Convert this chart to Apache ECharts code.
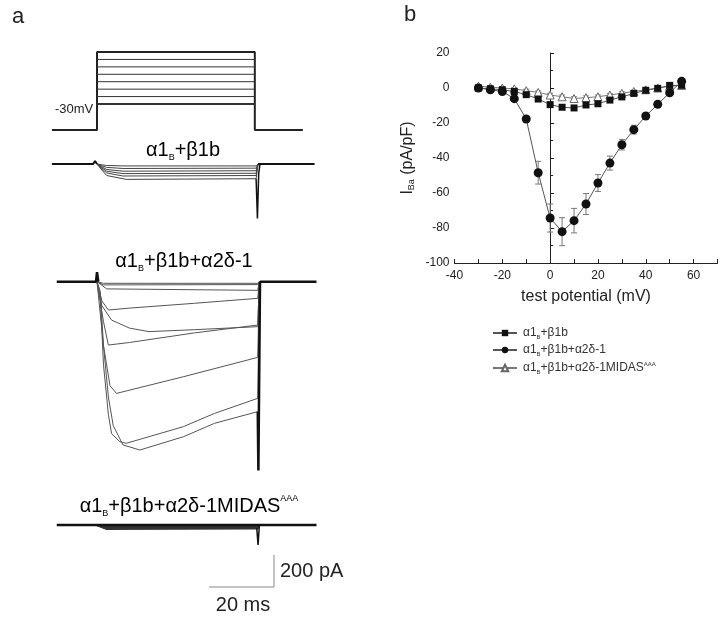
<!DOCTYPE html>
<html>
<head>
<meta charset="utf-8">
<script src="https://cdn.jsdelivr.net/npm/echarts@6/dist/echarts.min.js"></script>
<style>
html,body{margin:0;padding:0;background:#fff;}
#main{width:721px;height:617px;}
</style>
</head>
<body>
<div id="main"></div>
<script>
// ---- panel b : I-V data ----
var ivX = [-30, -25, -20, -15, -10, -5, 0, 5, 10, 15, 20, 25, 30, 35, 40, 45, 50, 55];
var sqI = [0, -0.5, -1, -2, -3.8, -6.3, -9.5, -11, -11.4, -9.7, -9, -6.9, -5.1, -3.1, -1.3, -0.2, 1.5, 1.5];
var sqErr = [0.5, 0.5, 0.5, 0.6, 0.8, 1, 1.2, 1.3, 1.3, 1.2, 1.1, 1, 0.8, 0.7, 0.6, 0.5, 0.5, 0.5];
var cirI = [0, -1, -2, -6.1, -17.7, -48.4, -74.3, -82.1, -75.8, -66.3, -54.3, -42.9, -32.4, -23.8, -16, -9.3, -2.7, 3.8];
var cirErr = [0.5, 0.8, 1, 1.2, 1.5, 6.5, 8, 8, 7, 6, 4.8, 4, 3, 2.5, 1.5, 1, 1, 1];
var triI = [1, 0.5, 0, -0.5, -1.5, -2.5, -4, -5, -6, -5.5, -5, -4, -3, -2, -1, 0, 1, 1.5];
var triErr = [1, 0.8, 0.8, 0.8, 0.8, 0.8, 1, 1, 1, 1, 1, 0.8, 0.8, 0.8, 0.8, 0.8, 0.8, 0.8];
var ivNames = ['α1B+β1b', 'α1B+β1b+α2δ-1', 'α1B+β1b+α2δ-1MIDASAAA'];

// ---- panel a : voltage protocol (ms, mV) ----
var protoOuter = [[-13.9, -65], [0, -65], [0, 40], [48.6, 40], [48.6, -65], [63.4, -65]];
var protoSteps = [-30, -20, -10, 0, 10, 20, 30];

// ---- panel a : current traces (ms, pA) ----
var g1Base = [[-13.9, 0], [-1.2, 0], [-0.6, 18], [0, 0]];
var g1Tail = [[49.6, 0], [67, 0]];
var g1Spike = [[49, -92], [49.4, -340], [49.8, -60], [50.2, 0]];
var g1Traces = [
  [[0, 0], [1.5, -5], [3, -9], [8, -12], [49, -12], [49.6, 0]],
  [[0, 0], [1.5, -11], [3, -21], [8, -28], [49, -26], [49.6, 0]],
  [[0, 0], [1.5, -18], [3, -34], [8, -45], [49, -42], [49.6, 0]],
  [[0, 0], [1.5, -24], [3, -45], [8, -60], [49, -58], [49.6, 0]],
  [[0, 0], [1.5, -30], [3, -56], [8, -75], [49, -72], [49.6, 0]],
  [[0, 0], [1.5, -38], [3, -72], [9, -96], [49, -92], [49.6, 0]]
];

var g2Base = [[-12.4, 0], [-0.3, 0], [0, 60], [0.4, 0]];
var g2Tail = [[50.2, 0], [67.6, 0]];
var g2Spike = [[49.5, -812], [49.7, -1180], [50.2, 0]];
var g2Traces = [
  [[0, 0], [2, -10], [49.5, -10], [50, 0]],
  [[0, 0], [2, -20], [49.5, -18], [50, 0]],
  [[0, 0], [3, -45], [49.5, -54], [50, 0]],
  [[0, 0], [1.5, -120], [3.5, -177], [10, -165], [30, -135], [49.5, -104], [50, 0]],
  [[0, 0], [1.5, -150], [4.5, -240], [10, -290], [16, -312], [30, -300], [49.5, -281], [50, 0]],
  [[0, 0], [2, -250], [3.5, -396], [10, -380], [30, -320], [49.5, -271], [50, 0]],
  [[0, 0], [2, -400], [4, -650], [6, -698], [26.6, -594], [49.5, -473], [50, 0]],
  [[0, 0], [1, -100], [2, -520], [3.5, -830], [4.5, -950], [7, -1000], [9, -1010], [26.6, -906], [36.2, -823], [49.5, -729], [50, 0]],
  [[0, 0], [1, -60], [2, -400], [3.5, -720], [5, -900], [8, -1020], [13.2, -1052], [26.6, -969], [36.2, -885], [49.5, -812]]
];

var g3Base = [[-12.4, 0], [67.6, 0]];
var g3Spike = [[49.2, -20], [49.6, -125], [50, 0]];
var g3Traces = [
  [[0, 0], [2, -8], [49.5, -8], [49.7, 0]],
  [[0, 0], [2, -16], [49.5, -15], [49.7, 0]],
  [[0, 0], [3, -25], [49.5, -22], [49.7, 0]]
];
var scaleBar = [[34.5, -387.5], [54.5, -387.5], [54.5, -187.5]];

var FONT = 'Liberation Sans, Arial, sans-serif';

function line(data, g, w, c) {
  return {
    type: 'line', xAxisIndex: g, yAxisIndex: g, data: data,
    showSymbol: false, symbol: 'none', silent: true, clip: false,
    lineStyle: { width: w, color: c }, z: 2
  };
}

function errData(vals, errs) {
  var out = [];
  for (var i = 0; i < ivX.length; i++) {
    out.push([ivX[i], vals[i] - errs[i], vals[i] + errs[i]]);
  }
  return out;
}

function renderErr(params, api) {
  var x = api.value(0);
  var p1 = api.coord([x, api.value(1)]);
  var p2 = api.coord([x, api.value(2)]);
  var w = 3;
  var st = { stroke: '#777', lineWidth: 1 };
  return {
    type: 'group',
    children: [
      { type: 'line', shape: { x1: p1[0], y1: p1[1], x2: p2[0], y2: p2[1] }, style: st },
      { type: 'line', shape: { x1: p1[0] - w, y1: p1[1], x2: p1[0] + w, y2: p1[1] }, style: st },
      { type: 'line', shape: { x1: p2[0] - w, y1: p2[1], x2: p2[0] + w, y2: p2[1] }, style: st }
    ]
  };
}

function pairs(vals) {
  return ivX.map(function (x, i) { return [x, vals[i]]; });
}

var myChart = echarts.init(document.getElementById('main'));

var hiddenX = function (g, min, max) { return { type: 'value', gridIndex: g, min: min, max: max, show: false }; };
var hiddenY = function (g, min, max) { return { type: 'value', gridIndex: g, min: min, max: max, show: false }; };

var richSmall = {
  n: { fontSize: 12, color: '#333', fontFamily: FONT, lineHeight: 14 },
  s: { fontSize: 6, color: '#333', fontFamily: FONT, lineHeight: 8, verticalAlign: 'bottom' },
  u: { fontSize: 6, color: '#333', fontFamily: FONT, lineHeight: 8, verticalAlign: 'top' }
};
var richBig = {
  n: { fontSize: 20, color: '#222', fontFamily: FONT, lineHeight: 24 },
  s: { fontSize: 9, color: '#222', fontFamily: FONT, lineHeight: 12, verticalAlign: 'bottom' },
  u: { fontSize: 9, color: '#222', fontFamily: FONT, lineHeight: 12, verticalAlign: 'top' }
};
var legendText = {};
legendText[ivNames[0]] = '{n|α1}{s|B}{n|+β1b}';
legendText[ivNames[1]] = '{n|α1}{s|B}{n|+β1b+α2δ-1}';
legendText[ivNames[2]] = '{n|α1}{s|B}{n|+β1b+α2δ-1MIDAS}{u|AAA}';

var series = [];
// I-V error bars
[[cirI, cirErr], [sqI, sqErr], [triI, triErr]].forEach(function (d) {
  series.push({
    type: 'custom', xAxisIndex: 0, yAxisIndex: 0, renderItem: renderErr,
    data: errData(d[0], d[1]), encode: { x: 0, y: [1, 2] }, silent: true, z: 1
  });
});
series.push({
  name: ivNames[0], type: 'line', xAxisIndex: 0, yAxisIndex: 0, data: pairs(sqI),
  symbol: 'rect', symbolSize: 7, lineStyle: { color: '#555', width: 1 },
  itemStyle: { color: '#111' }, z: 4
});
series.push({
  name: ivNames[1], type: 'line', xAxisIndex: 0, yAxisIndex: 0, data: pairs(cirI),
  symbol: 'circle', symbolSize: 9, lineStyle: { color: '#555', width: 1 },
  itemStyle: { color: '#111' }, z: 5
});
series.push({
  name: ivNames[2], type: 'line', xAxisIndex: 0, yAxisIndex: 0, data: pairs(triI),
  symbol: 'triangle', symbolSize: 8, lineStyle: { color: '#777', width: 1 },
  itemStyle: { color: '#fff', borderColor: '#666', borderWidth: 1 }, z: 3
});

// protocol
series.push(line(protoOuter, 1, 2, '#222'));
protoSteps.forEach(function (v) {
  series.push(line([[0, v], [48.6, v]], 1, v === -30 ? 2 : 1, '#333'));
});

// group 1
g1Traces.forEach(function (t) { series.push(line(t, 2, 1, '#444')); });
series.push(line(g1Base, 2, 2, '#111'));
series.push(line(g1Tail, 2, 2, '#111'));
series.push(line(g1Spike, 2, 1.5, '#111'));

// group 2
g2Traces.forEach(function (t) { series.push(line(t, 3, 1, '#555')); });
series.push(line(g2Base, 3, 2.5, '#111'));
series.push(line(g2Tail, 3, 2.5, '#111'));
series.push(line(g2Spike, 3, 2.5, '#111'));

// group 3
g3Traces.forEach(function (t) { series.push(line(t, 4, 2, '#333')); });
series.push(line(g3Base, 4, 2.5, '#111'));
series.push(line(g3Spike, 4, 1.5, '#111'));
series.push(line(scaleBar, 4, 1, '#888'));

var option = {
  animation: false,
  backgroundColor: '#fff',
  textStyle: { fontFamily: FONT },
  grid: [
    { left: 454.5, top: 53, width: 263, height: 210 },
    { left: 48.3, top: 48.3, width: 276, height: 85.4 },
    { left: 48.3, top: 156, width: 276, height: 72 },
    { left: 48.3, top: 273.7, width: 276, height: 208 },
    { left: 48.3, top: 517, width: 276, height: 80 }
  ],
  xAxis: [
    {
      type: 'value', gridIndex: 0, min: -40, max: 70, interval: 10,
      name: 'test potential (mV)', nameLocation: 'middle', nameGap: 26,
      nameTextStyle: { fontSize: 16, color: '#222', fontFamily: FONT },
      axisLine: { onZero: false, lineStyle: { color: '#222', width: 1 } },
      axisTick: { inside: true, length: 4, lineStyle: { color: '#222' } },
      axisLabel: {
        fontSize: 12, color: '#222', margin: 7,
        formatter: function (v) { return (v % 20 === 0 && v !== 70) ? String(v) : ''; }
      },
      splitLine: { show: false }
    },
    hiddenX(1, -15, 70),
    hiddenX(2, -15, 70),
    hiddenX(3, -15, 70),
    hiddenX(4, -15, 70)
  ],
  yAxis: [
    {
      type: 'value', gridIndex: 0, min: -100, max: 20, interval: 20,
      name: '{n|I}{s|Ba}{n| (pA/pF)}', nameLocation: 'middle', nameGap: 38, nameRotate: 90,
      nameTextStyle: {
        rich: {
          n: { fontSize: 16, color: '#222', fontFamily: FONT, lineHeight: 18 },
          s: { fontSize: 9, color: '#222', fontFamily: FONT, lineHeight: 10, verticalAlign: 'bottom' }
        }
      },
      axisLine: { show: true, lineStyle: { color: '#222', width: 1 } },
      axisTick: { show: true, inside: true, length: 4, lineStyle: { color: '#222' } },
      minorTick: { show: true, splitNumber: 2, length: 3, lineStyle: { color: '#222' } },
      axisLabel: { fontSize: 12, color: '#222', margin: 5 },
      splitLine: { show: false }
    },
    hiddenY(1, -70, 45),
    hiddenY(2, -400, 50),
    hiddenY(3, -1250, 50),
    hiddenY(4, -450, 50)
  ],
  legend: {
    data: ivNames, orient: 'vertical', left: 487, top: 322,
    itemWidth: 24, itemHeight: 8, itemGap: 4,
    formatter: function (name) { return legendText[name]; },
    textStyle: { rich: richSmall, padding: [0, 0, 0, 1] }
  },
  graphic: [
    { type: 'text', left: 12, top: 6, style: { text: 'a', fontSize: 22, fill: '#222', fontFamily: FONT } },
    { type: 'text', left: 404, top: 4, style: { text: 'b', fontSize: 22, fill: '#222', fontFamily: FONT } },
    { type: 'text', x: 55, y: 109, style: { text: '-30mV', fontSize: 13, fill: '#222', fontFamily: FONT, verticalAlign: 'middle' } },
    { type: 'text', x: 183, y: 150, style: { text: '{n|α1}{s|B}{n|+β1b}', rich: richBig, align: 'center', verticalAlign: 'middle' } },
    { type: 'text', x: 184, y: 261, style: { text: '{n|α1}{s|B}{n|+β1b+α2δ-1}', rich: richBig, align: 'center', verticalAlign: 'middle' } },
    { type: 'text', x: 189, y: 506, style: { text: '{n|α1}{s|B}{n|+β1b+α2δ-1MIDAS}{u|AAA}', rich: richBig, align: 'center', verticalAlign: 'middle' } },
    { type: 'text', x: 280, y: 571, style: { text: '200 pA', fontSize: 20, fill: '#222', fontFamily: FONT, verticalAlign: 'middle' } },
    { type: 'text', x: 243, y: 605, style: { text: '20 ms', fontSize: 20, fill: '#222', fontFamily: FONT, align: 'center', verticalAlign: 'middle' } }
  ],
  series: series
};

myChart.setOption(option);
</script>
</body>
</html>
